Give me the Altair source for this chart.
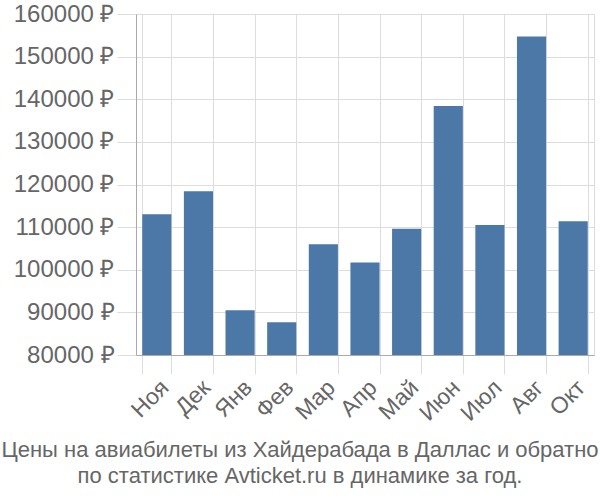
import altair as alt
import pandas as pd

months = ["Ноя", "Дек", "Янв", "Фев", "Мар", "Апр", "Май", "Июн", "Июл", "Авг", "Окт"]
prices = [113000, 118400, 90500, 87700, 106000, 101700, 109600, 138400, 110500, 154700, 111400]
y_ticks = [80000, 90000, 100000, 110000, 120000, 130000, 140000, 150000, 160000]
title_lines = ["Цены на авиабилеты из Хайдерабада в Даллас и обратно",
               "по статистике Avticket.ru в динамике за год."]

df = pd.DataFrame({"month": months, "price": prices})

font = "Liberation Sans"

chart = alt.Chart(df).mark_bar(color="#4c78a8").encode(
    x=alt.X("month:N", sort=months,
            scale=alt.Scale(paddingInner=0.3, paddingOuter=0.15),
            axis=alt.Axis(title=None, labelAngle=-45, tickBand="extent",
                          labelFontSize=23, labelColor="#666666", labelFont=font,
                          tickSize=19, tickColor="#dddddd", gridColor="#dddddd",
                          domainColor="#aaaaaa", labelPadding=2, grid=True)),
    y=alt.Y("price:Q", scale=alt.Scale(domain=[80000, 160000], zero=False, nice=False),
            axis=alt.Axis(title=None, values=y_ticks, labelExpr="datum.value + ' ₽'",
                          labelFontSize=24, labelColor="#666666", labelFont=font,
                          tickSize=19, tickColor="#dddddd", gridColor="#dddddd",
                          domainColor="#aaaaaa", labelPadding=3)),
    y2=alt.datum(80000),
).properties(
    width=458, height=341,
    autosize=alt.AutoSizeParams(type="none"),
    padding={"left": 136, "top": 14, "right": 6, "bottom": 145},
    title=alt.TitleParams(title_lines, orient="bottom", fontSize=22, color="#666666",
                          font=font, fontWeight="normal", anchor="middle", offset=15,
                          dx=-65, lineHeight=26),
).configure_view(stroke="#dddddd")

chart.save("out.html", embed_options={"renderer": "svg", "actions": False})
